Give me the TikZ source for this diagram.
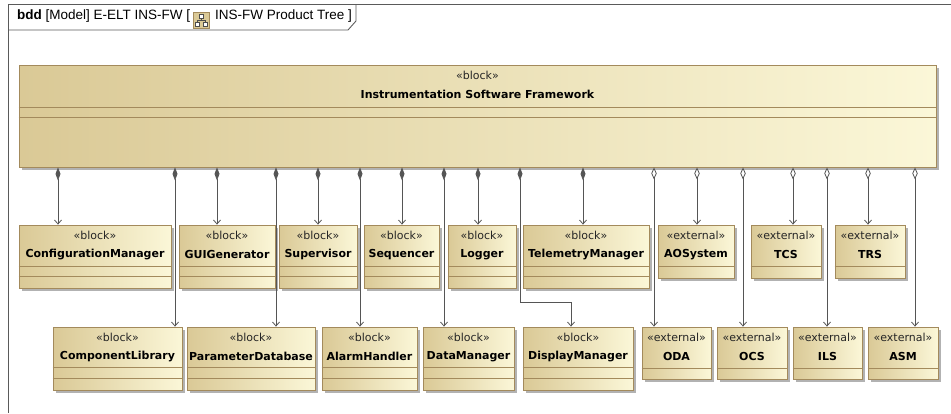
\documentclass[tikz,border=0pt]{standalone}
\usepackage{fontspec}
\setmainfont{Liberation Sans}
\newfontfamily\blockfont{DejaVu Sans}
\usetikzlibrary{positioning, arrows.meta, fit, shadows}

\definecolor{blkline}{RGB}{163,138,92}
\definecolor{tanL}{RGB}{218,201,150}
\definecolor{tanR}{RGB}{251,247,216}
\definecolor{wire}{RGB}{85,85,85}
\definecolor{framecol}{RGB}{90,90,90}

% one SysML block: name, corners, stereotype, title, compartment offsets
\newcommand{\umlblock}[6]{%
  \node[blk, fit={#2 #3}] (#1) {};
  \node[stereo] at ([yshift=-11]#1.north) {«#4»};
  \node[title] at ([yshift=-30]#1.north) {#5};
  \foreach \d in {#6}
    \draw[compart] ([yshift=-\d]#1.north west) -- ([yshift=-\d]#1.north east);
}

\begin{document}
\begin{tikzpicture}[x=1pt, y=-1pt,
    blk/.style={draw=blkline, line width=0.8pt, left color=tanL, right color=tanR,
                inner sep=0pt, drop shadow={shadow xshift=2.5pt, shadow yshift=-2.5pt,
                fill=black, opacity=0.3}},
    compart/.style={blkline, line width=0.8pt},
    stereo/.style={font=\blockfont\fontsize{11}{13}\selectfont, inner sep=0pt, text=black!85},
    title/.style={font=\blockfont\bfseries\fontsize{11}{13}\selectfont, inner sep=0pt},
    comp/.style={wire, line width=0.8pt, {Diamond[length=13pt, width=5pt]}-{Straight Barb[length=4pt, width=7pt]}},
    aggr/.style={wire, line width=0.8pt, {Diamond[fill=white, length=12pt, width=5.5pt]}-{Straight Barb[length=4pt, width=7pt]}}
]
    \useasboundingbox (0,0) rectangle (951,413);

    % === Diagram frame and header ===
    \draw[framecol, line width=0.9pt] (951,4) -- (8,4) -- (8,413);
    \draw[framecol, line width=0.9pt] (8,30) -- (348,30) -- (356,21) -- (356,4);
    \node[anchor=base west, inner sep=0pt, font=\fontsize{13.5}{15}\selectfont] (hdr) at (17,19)
        {\textbf{bdd} [Model] E-ELT INS-FW [};
    \draw[blkline, fill=tanL] (193,12) rectangle (209,28);
    \draw[black!70, fill=white] (199,14) rectangle (203,18);
    \draw[black!70, fill=white] (195,22) rectangle (199,26);
    \draw[black!70, fill=white] (203,22) rectangle (207,26);
    \draw[black!70] (201,18) -- (201,20) -- (197,20) -- (197,22) (201,20) -- (205,20) -- (205,22);
    \node[anchor=base west, inner sep=0pt, font=\fontsize{13.5}{15}\selectfont] (hdrname) at (215,19)
        {INS-FW Product Tree ]};

    % === Root block ===
    \umlblock{isf}{(19,65)}{(936,167)}{block}{Instrumentation Software Framework}{43,53}

    % === Row 1 ===
    \umlblock{cfg}{(19,225)}{(171,288)}{block}{ConfigurationManager}{42,52}
    \umlblock{gui}{(179,225)}{(275,288)}{block}{GUIGenerator}{42,52}
    \umlblock{sup}{(279,225)}{(357,288)}{block}{Supervisor}{42,52}
    \umlblock{seq}{(364,225)}{(439,288)}{block}{Sequencer}{42,52}
    \umlblock{log}{(448,225)}{(516,288)}{block}{Logger}{42,52}
    \umlblock{tel}{(523,225)}{(649,288)}{block}{TelemetryManager}{42,52}
    \umlblock{aos}{(658,225)}{(734,278)}{external}{AOSystem}{42}
    \umlblock{tcs}{(751,225)}{(821,278)}{external}{TCS}{42}
    \umlblock{trs}{(835,225)}{(905,278)}{external}{TRS}{42}

    % === Row 2 ===
    \umlblock{cpl}{(53,327)}{(182,390)}{block}{ComponentLibrary}{41,52}
    \umlblock{pdb}{(187,327)}{(315,390)}{block}{ParameterDatabase}{41,52}
    \umlblock{alm}{(322,327)}{(417,390)}{block}{AlarmHandler}{41,52}
    \umlblock{dat}{(423,327)}{(514,390)}{block}{DataManager}{41,52}
    \umlblock{dsp}{(523,327)}{(633,390)}{block}{DisplayManager}{41,52}
    \umlblock{oda}{(642,327)}{(711,379)}{external}{ODA}{42}
    \umlblock{ocs}{(717,327)}{(787,379)}{external}{OCS}{42}
    \umlblock{ils}{(793,327)}{(862,379)}{external}{ILS}{42}
    \umlblock{asm}{(868,327)}{(938,379)}{external}{ASM}{42}

    % === Composition (filled diamonds) ===
    \draw[comp] (isf.south -| 58,0) -- (58,0 |- cfg.north);
    \draw[comp] (isf.south -| 175,0) -- (175,0 |- cpl.north);
    \draw[comp] (isf.south -| 217,0) -- (217,0 |- gui.north);
    \draw[comp] (isf.south -| 276,0) -- (276,0 |- pdb.north);
    \draw[comp] (isf.south -| 318,0) -- (318,0 |- sup.north);
    \draw[comp] (isf.south -| 360,0) -- (360,0 |- alm.north);
    \draw[comp] (isf.south -| 402,0) -- (402,0 |- seq.north);
    \draw[comp] (isf.south -| 444,0) -- (444,0 |- dat.north);
    \draw[comp] (isf.south -| 478,0) -- (478,0 |- log.north);
    \coordinate (dspbend) at (520,302);
    \draw[comp] (isf.south -| dspbend) -- (dspbend) -| (dsp.north -| 571,0);
    \draw[comp] (isf.south -| 583,0) -- (583,0 |- tel.north);

    % === Aggregation (hollow diamonds) ===
    \draw[aggr] (isf.south -| 654,0) -- (654,0 |- oda.north);
    \draw[aggr] (isf.south -| 697,0) -- (697,0 |- aos.north);
    \draw[aggr] (isf.south -| 743,0) -- (743,0 |- ocs.north);
    \draw[aggr] (isf.south -| 793,0) -- (793,0 |- tcs.north);
    \draw[aggr] (isf.south -| 827,0) -- (827,0 |- ils.north);
    \draw[aggr] (isf.south -| 868,0) -- (868,0 |- trs.north);
    \draw[aggr] (isf.south -| 915,0) -- (915,0 |- asm.north);

\end{tikzpicture}
\end{document}
